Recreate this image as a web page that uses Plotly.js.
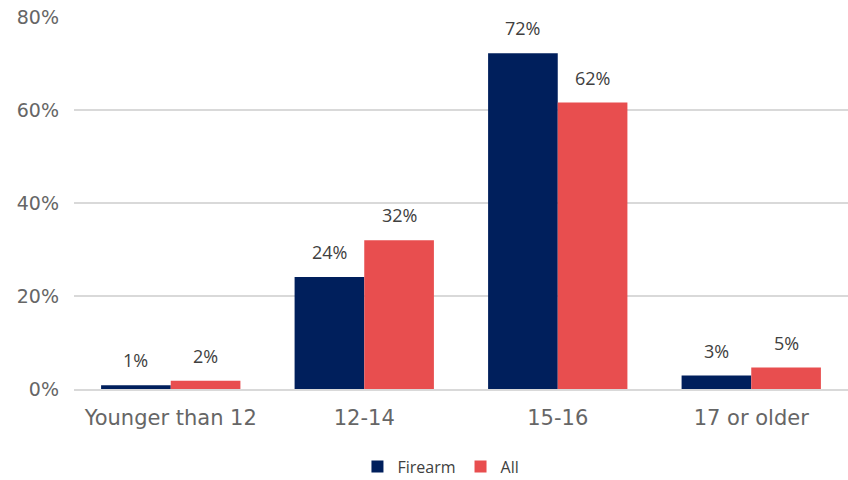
<!DOCTYPE html>
<html>
<head>
<meta charset="utf-8">
<script src="https://cdn.plot.ly/plotly-3.0.1.min.js"></script>
<style>html,body{margin:0;padding:0;background:#fff;}#chart{width:848px;height:480px;}</style>
</head>
<body>
<div id="chart"></div>
<script>
// Age at first offense, share of youth (%)
const categories = ["Younger than 12", "12-14", "15-16", "17 or older"];
const firearm = [0.8, 24.1, 72.2, 2.9];
const allOffenses = [1.8, 32.0, 61.6, 4.6];
const yTicks = [0, 20, 40, 60, 80];
const yTickLabels = ["0%", "20%", "40%", "60%", "80%"];

const labelFont = {family: "Open Sans, Noto Sans, sans-serif", size: 18, color: "#404040"};
const axisFont = {family: "DejaVu Sans, sans-serif", size: 19, color: "#666666"};
const catFont = {family: "DejaVu Sans, sans-serif", size: 21, color: "#666666"};
const pct = v => Math.round(v) + "%";

const traces = [
  {type: "bar", name: "Firearm", x: categories, y: firearm,
   marker: {color: "#001f5c"}, hoverinfo: "skip"},
  {type: "bar", name: "All", x: categories, y: allOffenses,
   marker: {color: "#e84e4f"}, hoverinfo: "skip"}
];

// value labels sit above each bar of the group
const half = (1 - 0.28) / 4;
const annotations = [];
[[firearm, -half], [allOffenses, half]].forEach(([vals, off]) => {
  vals.forEach((v, i) => {
    annotations.push({
      x: i + off, y: v, xref: "x", yref: "y",
      text: pct(v), showarrow: false, yanchor: "bottom", yshift: 11,
      font: labelFont
    });
  });
});

const layout = {
  width: 848, height: 480,
  margin: {l: 74, r: 0, t: 17, b: 91, autoexpand: false},
  paper_bgcolor: "#fff", plot_bgcolor: "#fff",
  barmode: "group", bargap: 0.28, bargroupgap: 0,
  font: axisFont,
  xaxis: {
    tickfont: catFont, automargin: false,
    showline: true, linecolor: "#d9d9d9", linewidth: 1.5,
    ticks: "", showgrid: false, ticklabelstandoff: 9
  },
  yaxis: {
    range: [0, 80], tickvals: yTicks, ticktext: yTickLabels, automargin: false,
    tickfont: axisFont,
    showgrid: true, gridcolor: "#d9d9d9", gridwidth: 1.5,
    zeroline: false, showline: false, ticks: "", ticklabelstandoff: 14
  },
  annotations: annotations,
  showlegend: true,
  legend: {
    orientation: "h", xref: "container", x: 0.52, xanchor: "center",
    yref: "container", y: 0.028, yanchor: "middle",
    font: {family: "Open Sans, Noto Sans, sans-serif", size: 16, color: "#404040"},
    traceorder: "normal"
  }
};

Plotly.newPlot("chart", traces, layout, {displayModeBar: false, staticPlot: true});
</script>
</body>
</html>
